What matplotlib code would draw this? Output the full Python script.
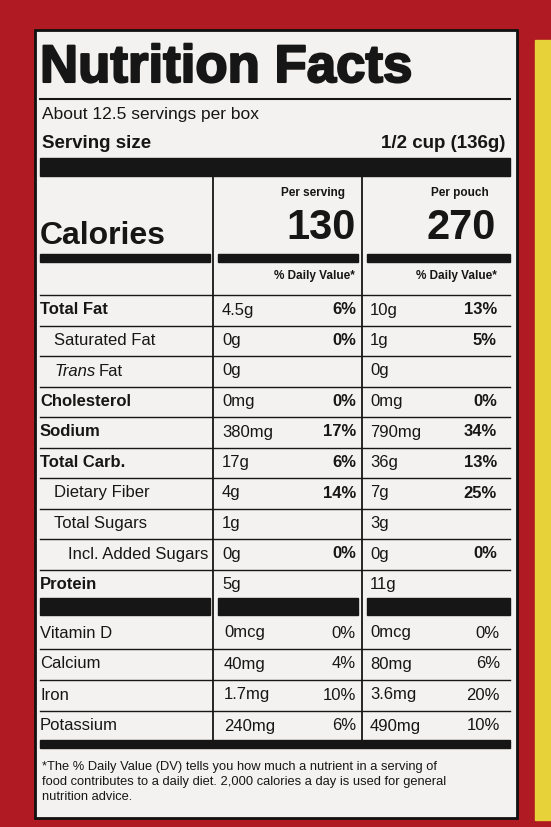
import matplotlib
matplotlib.use("Agg")
import matplotlib.pyplot as plt
from matplotlib.patches import Rectangle

nutrients = ["Total Fat", "Saturated Fat", "Trans Fat", "Cholesterol", "Sodium",
             "Total Carb.", "Dietary Fiber", "Total Sugars", "Incl. Added Sugars", "Protein"]
indent = [0, 1, 1, 0, 0, 0, 1, 1, 2, 0]
bold = [True, False, False, True, True, True, False, False, False, True]
serv_amt = ["4.5g", "0g", "0g", "0mg", "380mg", "17g", "4g", "1g", "0g", "5g"]
serv_dv = ["6%", "0%", "", "0%", "17%", "6%", "14%", "", "0%", ""]
pouch_amt = ["10g", "1g", "0g", "0mg", "790mg", "36g", "7g", "3g", "0g", "11g"]
pouch_dv = ["13%", "5%", "", "0%", "34%", "13%", "25%", "", "0%", ""]
vitamins = ["Vitamin D", "Calcium", "Iron", "Potassium"]
vit_serv_amt = ["0mcg", "40mg", "1.7mg", "240mg"]
vit_serv_dv = ["0%", "4%", "10%", "6%"]
vit_pouch_amt = ["0mcg", "80mg", "3.6mg", "490mg"]
vit_pouch_dv = ["0%", "6%", "20%", "10%"]
calories = ["130", "270"]

fig = plt.figure(figsize=(5.51, 8.27), dpi=100)
ax = fig.add_axes([0, 0, 1, 1])
ax.set_xlim(0, 551); ax.set_ylim(827, 0); ax.axis("off")
ax.add_patch(Rectangle((0, 0), 551, 827, color="#b01a22"))
ax.add_patch(Rectangle((535, 40), 20, 780, color="#e8d23a"))
ax.add_patch(Rectangle((35, 30), 482, 788, color="#f4f2f0", ec="#111", lw=2))
F = "Liberation Sans"
k = "#161616"

def bar(y0, y1, x0=40, x1=510):
    ax.add_patch(Rectangle((x0, y0), x1 - x0, y1 - y0, color=k))

def hl(y, x0=40, x1=510, lw=1.2):
    ax.plot([x0, x1], [y, y], color=k, lw=lw)

ax.text(40, 68, "Nutrition Facts", fontsize=38, fontweight="heavy", family=F, va="center",
        color=k, path_effects=[__import__("matplotlib.patheffects", fromlist=["x"]).withStroke(linewidth=1.5, foreground=k)])
hl(99, lw=1.5)
ax.text(42, 115, "About 12.5 servings per box", fontsize=12.5, family=F, va="center", color=k)
ax.text(42, 144, "Serving size", fontsize=13.5, fontweight="bold", family=F, va="center", color=k)
ax.text(505, 144, "1/2 cup (136g)", fontsize=13.5, fontweight="bold", family=F, va="center", ha="right", color=k)
bar(158, 176)
ax.plot([213, 213], [176, 740], color=k, lw=1.3)
ax.plot([362, 362], [176, 740], color=k, lw=1.3)
ax.text(313, 193, "Per serving", fontsize=8.5, fontweight="bold", family=F, va="center", ha="center", color=k)
ax.text(460, 193, "Per pouch", fontsize=8.5, fontweight="bold", family=F, va="center", ha="center", color=k)
ax.text(40, 236, "Calories", fontsize=23, fontweight="bold", family=F, va="center", color=k)
ax.text(356, 228, calories[0], fontsize=30, fontweight="bold", family=F, va="center", ha="right", color=k)
ax.text(496, 228, calories[1], fontsize=30, fontweight="bold", family=F, va="center", ha="right", color=k)
bar(254, 262, 40, 210); bar(254, 262, 218, 358); bar(254, 262, 367, 510)
ax.text(355, 276, "% Daily Value*", fontsize=8.5, fontweight="bold", family=F, va="center", ha="right", color=k)
ax.text(497, 276, "% Daily Value*", fontsize=8.5, fontweight="bold", family=F, va="center", ha="right", color=k)

y0, dy = 310, 30.5
for i, n in enumerate(nutrients):
    y = y0 + i * dy
    hl(y - 15, lw=1.0)
    if n == "Trans Fat":
        ax.text(55, y, "Trans", fontsize=12, style="italic", family=F, va="center", color=k)
        ax.text(99, y, "Fat", fontsize=12, family=F, va="center", color=k)
    else:
        ax.text(40 + indent[i] * 14, y, n, fontsize=12, fontweight="bold" if bold[i] else "normal",
                family=F, va="center", color=k)
    ax.text(222, y, serv_amt[i], fontsize=12, family=F, va="center", color=k)
    ax.text(356, y, serv_dv[i], fontsize=12, fontweight="bold", family=F, va="center", ha="right", color=k)
    ax.text(370, y, pouch_amt[i], fontsize=12, family=F, va="center", color=k)
    ax.text(497, y, pouch_dv[i], fontsize=12, fontweight="bold", family=F, va="center", ha="right", color=k)
bar(598, 615, 40, 210); bar(598, 615, 218, 358); bar(598, 615, 367, 510)

yv = 633
for i, n in enumerate(vitamins):
    y = yv + i * 31
    if i > 0:
        hl(y - 15, lw=1.0)
    ax.text(40, y, n, fontsize=12, family=F, va="center", color=k)
    ax.text(224, y, vit_serv_amt[i], fontsize=12, family=F, va="center", color=k)
    ax.text(356, y, vit_serv_dv[i], fontsize=12, family=F, va="center", ha="right", color=k)
    ax.text(370, y, vit_pouch_amt[i], fontsize=12, family=F, va="center", color=k)
    ax.text(500, y, vit_pouch_dv[i], fontsize=12, family=F, va="center", ha="right", color=k)
bar(740, 748)
ax.text(42, 782, "*The % Daily Value (DV) tells you how much a nutrient in a serving of\n"
        "food contributes to a daily diet. 2,000 calories a day is used for general\n"
        "nutrition advice.", fontsize=9.3, family=F, va="center", color=k, linespacing=1.3)
fig.savefig("out.png", dpi=100)
